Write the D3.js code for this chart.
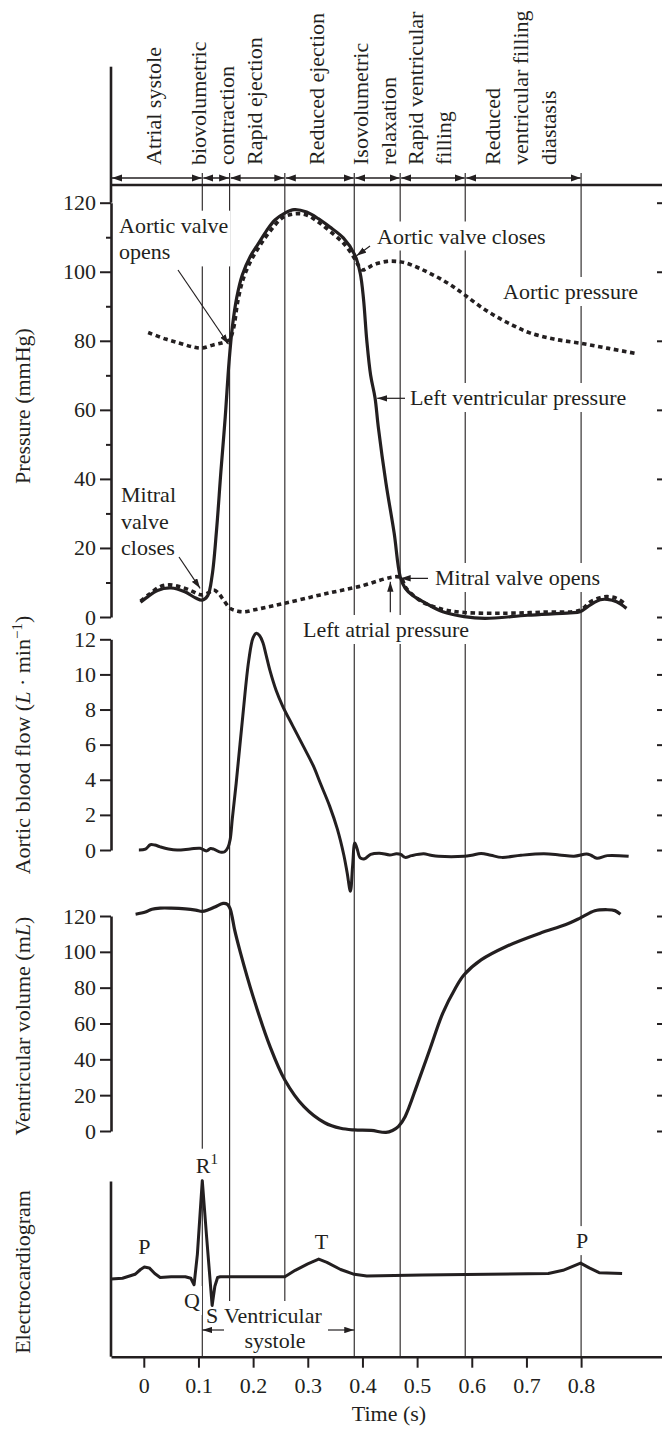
<!DOCTYPE html>
<html>
<head>
<meta charset="utf-8">
<script src="https://cdn.jsdelivr.net/npm/d3@7"></script>
<style>
  html, body { margin: 0; padding: 0; background: #fff; }
  svg { display: block; }
  text { font-family: "Liberation Serif", "Times New Roman", serif; fill: #231f20; }
</style>
</head>
<body>
<svg id="chart" width="662" height="1429"></svg>
<script>
// ---- Cardiac cycle phases (s) ----
const timeTicks = [0, 0.1, 0.2, 0.3, 0.4, 0.5, 0.6, 0.7, 0.8];
const phaseBounds = [0.107, 0.157, 0.258, 0.385, 0.469, 0.588, 0.8];
const phaseLabels = [
  ["Atrial systole"],
  ["biovolumetric", "contraction"],
  ["Rapid ejection"],
  ["Reduced ejection"],
  ["Isovolumetric", "relaxation"],
  ["Rapid ventricular", "filling"],
  ["Reduced", "ventricular filling", "diastasis"]
];

// ---- Axis ticks ----
const pressureTicks = [0, 20, 40, 60, 80, 100, 120];
const pressureMinorTicks = [10, 30, 50, 70, 90, 110];
const flowTicks = [0, 2, 4, 6, 8, 10, 12];
const volumeTicks = [0, 20, 40, 60, 80, 100, 120];

// ---- Series: [time (s), value] ----
// Left ventricular pressure (mmHg)
const lvPressure = [
  [-0.006, 4.3], [0.005, 5.6], [0.025, 7.7], [0.05, 8.4], [0.075, 7.3], [0.095, 5.5],
  [0.107, 4.9], [0.117, 6.2], [0.125, 12], [0.133, 25], [0.141, 42], [0.149, 58],
  [0.156, 74], [0.162, 84], [0.170, 92.5], [0.180, 99], [0.195, 104.5], [0.209, 108],
  [0.225, 112], [0.240, 115], [0.258, 117], [0.275, 118], [0.298, 117.3], [0.320, 115.3],
  [0.340, 113], [0.365, 109.8], [0.386, 104.9], [0.396, 99.5], [0.402, 92], [0.408, 80],
  [0.415, 70], [0.423, 63.5], [0.429, 55], [0.443, 38.8], [0.458, 24.3], [0.469, 11.7],
  [0.478, 8.4], [0.492, 6.2], [0.509, 4.6], [0.547, 1.5], [0.586, 0.1], [0.624, -0.4],
  [0.702, 0.5], [0.780, 1.2], [0.798, 1.5], [0.817, 3.5], [0.835, 5.0], [0.848, 5.1],
  [0.865, 4.4], [0.883, 2.5]
];
// Aortic pressure (mmHg)
const aorticPressure = [
  [0.008, 82.4], [0.040, 80.5], [0.066, 79.3], [0.090, 78.2], [0.106, 77.9], [0.127, 78.8],
  [0.145, 79.5], [0.156, 80.2], [0.164, 83.5], [0.172, 91.5], [0.182, 98], [0.196, 103.2],
  [0.212, 107.5], [0.230, 111.5], [0.255, 115.8], [0.280, 116.8], [0.300, 116.3],
  [0.320, 114.3], [0.340, 111.8], [0.365, 108.3], [0.383, 104.5], [0.392, 102], [0.400, 100.5],
  [0.410, 101.2], [0.425, 102.3], [0.445, 103], [0.462, 103], [0.480, 102.5], [0.500, 101.3],
  [0.520, 99.8], [0.542, 98], [0.565, 95.8], [0.587, 93.3], [0.615, 90], [0.645, 87],
  [0.675, 84.5], [0.706, 82.3], [0.750, 80.5], [0.798, 79.3], [0.850, 77.8], [0.898, 76.4]
];
// Left atrial pressure (mmHg)
const atrialPressure = [
  [-0.006, 4.6], [0.010, 6.6], [0.030, 8.8], [0.046, 9.3], [0.065, 8.8], [0.084, 7.8],
  [0.100, 6.6], [0.107, 6.4], [0.118, 7.0], [0.128, 7.8], [0.137, 6.8], [0.146, 4.9],
  [0.158, 2.5], [0.172, 1.7], [0.184, 1.5], [0.200, 2.0], [0.215, 2.5], [0.258, 4.0],
  [0.323, 6.4], [0.393, 8.8], [0.469, 11.5], [0.478, 8.8], [0.486, 7.3], [0.509, 4.4],
  [0.547, 2.2], [0.586, 1.3], [0.662, 1.1], [0.730, 1.4], [0.798, 2.0], [0.817, 4.4],
  [0.835, 5.6], [0.848, 5.9], [0.865, 5.4], [0.883, 3.5]
];
// Aortic blood flow (L/min)
const aorticFlow = [
  [-0.009, 0], [0.003, 0.05], [0.012, 0.3], [0.020, 0.28], [0.030, 0.18], [0.045, 0.06],
  [0.061, 0.0], [0.085, 0.06], [0.103, 0.1], [0.110, 0.0], [0.115, -0.05], [0.122, 0.08],
  [0.128, 0.05], [0.140, -0.12], [0.148, -0.1], [0.154, 0.15], [0.158, 0.6], [0.162, 1.8],
  [0.169, 3.8], [0.181, 7.6], [0.192, 10.8], [0.200, 12.1], [0.206, 12.35], [0.212, 12.2],
  [0.218, 11.8], [0.223, 11.2], [0.231, 10.2], [0.242, 9.1], [0.254, 8.2], [0.272, 7.1],
  [0.292, 5.9], [0.310, 4.8], [0.323, 3.8], [0.340, 2.5], [0.354, 1.2], [0.366, -0.3],
  [0.372, -1.3], [0.378, -2.35], [0.382, -0.9], [0.386, 0.4], [0.390, 0.1], [0.396, -0.45],
  [0.404, -0.5], [0.415, -0.25], [0.431, -0.18], [0.450, -0.28], [0.462, -0.22], [0.470, -0.25],
  [0.478, -0.42], [0.490, -0.32], [0.512, -0.22], [0.525, -0.3], [0.539, -0.36], [0.586, -0.36],
  [0.600, -0.3], [0.617, -0.2], [0.635, -0.3], [0.655, -0.42], [0.690, -0.3], [0.732, -0.22],
  [0.760, -0.28], [0.787, -0.36], [0.810, -0.23], [0.818, -0.3], [0.829, -0.47], [0.848, -0.32],
  [0.887, -0.36]
];
// Ventricular volume (mL)
const ventricularVolume = [
  [-0.015, 121], [0.003, 122.2], [0.015, 123.8], [0.030, 124.4], [0.050, 124.4], [0.076, 124],
  [0.095, 123.3], [0.107, 122.6], [0.118, 123.5], [0.130, 125], [0.145, 127], [0.153, 126.5],
  [0.158, 124], [0.162, 119], [0.166, 112.5], [0.177, 99.3], [0.200, 75], [0.231, 47.1],
  [0.258, 28.5], [0.293, 13.6], [0.331, 4.6], [0.360, 1.5], [0.385, 0.6], [0.416, 0.3],
  [0.443, -0.8], [0.455, 0.3], [0.466, 2.6], [0.478, 8], [0.501, 26.6], [0.524, 46.2],
  [0.547, 65.8], [0.570, 79.7], [0.586, 87.2], [0.617, 95.5], [0.663, 103], [0.725, 110.4],
  [0.771, 115.1], [0.798, 118.8], [0.825, 122.9], [0.848, 123.5], [0.862, 123], [0.872, 121]
];
// Electrocardiogram (mV)
const ecg = [
  [-0.060, -0.03], [-0.039, -0.02], [-0.016, 0.03], [-0.006, 0.09], [0.001, 0.12], [0.010, 0.11],
  [0.020, 0.04], [0.030, -0.01], [0.050, 0.0], [0.076, 0.0], [0.086, -0.02], [0.092, -0.1],
  [0.098, 0.28], [0.107, 1.2], [0.115, 0.49], [0.125, -0.36], [0.130, -0.12], [0.135, -0.01],
  [0.140, 0.0], [0.258, 0.0], [0.277, 0.08], [0.300, 0.16], [0.320, 0.22], [0.335, 0.18],
  [0.360, 0.09], [0.385, 0.03], [0.408, 0.01], [0.509, 0.02], [0.740, 0.04], [0.767, 0.08],
  [0.799, 0.17], [0.815, 0.11], [0.833, 0.05], [0.875, 0.04]
];

// ---- Layout ----
const ink = "#231f20";
const FS = 22;
const svg = d3.select("#chart");

const x = d3.scaleLinear().domain([-0.06, 0.948]).range([111, 662]);
const yP = d3.scaleLinear().domain([0, 120]).range([617, 202.7]);
const yF = d3.scaleLinear().domain([0, 12]).range([850, 639.3]);
const yV = d3.scaleLinear().domain([0, 120]).range([1131, 916]);
const yE = d3.scaleLinear().domain([-1, 1.2]).range([1356.7, 1180.7]);

const axisX = x.range()[0];
const axisTop = 66.7;
const headerLineY = 185;
const arrowRowY = 178;
const headerTickTop = 173;
const baseY = yE.range()[0];

// Arrowhead markers
const defs = svg.append("defs");
function marker(id, len, half) {
  defs.append("marker")
    .attr("id", id)
    .attr("markerUnits", "userSpaceOnUse")
    .attr("viewBox", `0 0 ${len} ${half * 2}`)
    .attr("refX", len).attr("refY", half)
    .attr("markerWidth", len).attr("markerHeight", half * 2)
    .attr("orient", "auto-start-reverse")
    .append("path")
    .attr("d", `M0,0 L${len},${half} L0,${half * 2} Z`)
    .attr("fill", ink);
}
marker("head", 10, 3.6);
marker("pointer", 10, 3.2);

const gLines = svg.append("g");
const gAxes = svg.append("g");
const gNotes = svg.append("g");
const gCurves = svg.append("g");
const gArrows = svg.append("g");

// ---- Phase boundary lines ----
const sysStart = phaseBounds[0], sysEnd = phaseBounds[3];
gLines.selectAll("line.phase")
  .data(phaseBounds)
  .join("line")
  .attr("class", "phase")
  .attr("x1", d => x(d)).attr("x2", d => x(d))
  .attr("y1", headerTickTop)
  .attr("y2", d => (d > sysStart && d < sysEnd) ? 1305 : baseY)
  .attr("stroke", ink).attr("stroke-width", 1.1);

// ---- Header: phase arrows and labels ----
const segStarts = [x.domain()[0]].concat(phaseBounds.slice(0, -1));
const segments = segStarts.map((s, i) => [s, phaseBounds[i]]);

gAxes.append("line")
  .attr("x1", axisX).attr("x2", x.range()[1])
  .attr("y1", headerLineY).attr("y2", headerLineY)
  .attr("stroke", ink).attr("stroke-width", 2.6);

gArrows.selectAll("line.seg")
  .data(segments)
  .join("line")
  .attr("class", "seg")
  .attr("x1", d => x(d[0]) + 1).attr("x2", d => x(d[1]) - 0.5)
  .attr("y1", arrowRowY).attr("y2", arrowRowY)
  .attr("stroke", ink).attr("stroke-width", 1.5)
  .attr("marker-start", "url(#head)")
  .attr("marker-end", "url(#head)");

segments.forEach((seg, i) => {
  const lines = phaseLabels[i];
  const xc = (x(seg[0]) + x(seg[1])) / 2;
  lines.forEach((txt, j) => {
    const bx = xc + (j - (lines.length - 1) / 2) * 28 + 4.5;
    svg.append("text")
      .attr("transform", `translate(${bx},165) rotate(-90)`)
      .attr("font-size", FS)
      .text(txt);
  });
});

// ---- Axes ----
function styleAxis(g) {
  g.attr("font-family", null).attr("font-size", null);
  g.selectAll("path.domain").attr("stroke", ink).attr("stroke-width", 2.6);
  g.selectAll(".tick line").attr("stroke", ink).attr("stroke-width", 2);
  g.selectAll(".tick text").attr("font-size", FS).attr("fill", ink)
    .style("font-family", '"Liberation Serif", "Times New Roman", serif');
}
function leftAxis(scale, ticks) {
  gAxes.append("g")
    .attr("transform", `translate(${axisX},0)`)
    .call(d3.axisLeft(scale).tickValues(ticks).tickSize(11).tickSizeOuter(0).tickPadding(4)
      .tickFormat(d3.format("d")))
    .call(styleAxis);
  gAxes.append("g")
    .attr("transform", "translate(657,0)")
    .call(d3.axisRight(scale).tickValues(ticks).tickSize(5).tickFormat(""))
    .call(g => g.select(".domain").remove())
    .call(styleAxis);
}
leftAxis(yP, pressureTicks);
leftAxis(yF, flowTicks);
leftAxis(yV, volumeTicks);

// minor pressure ticks
gAxes.append("g")
  .attr("transform", `translate(${axisX},0)`)
  .call(d3.axisLeft(yP).tickValues(pressureMinorTicks).tickSize(5).tickFormat(""))
  .call(g => g.select(".domain").remove())
  .call(styleAxis);

// pressure axis rises to the top of the figure
gAxes.append("line")
  .attr("x1", axisX).attr("x2", axisX)
  .attr("y1", axisTop).attr("y2", yP.range()[1])
  .attr("stroke", ink).attr("stroke-width", 2.6);

// ECG axis (no ticks)
gAxes.append("line")
  .attr("x1", axisX).attr("x2", axisX)
  .attr("y1", yE(1.19)).attr("y2", baseY)
  .attr("stroke", ink).attr("stroke-width", 2.6);

// time axis
gAxes.append("g")
  .attr("transform", `translate(0,${baseY})`)
  .call(d3.axisBottom(x).tickValues(timeTicks).tickSize(11).tickSizeOuter(0).tickPadding(10)
    .tickFormat(d => d === 0 ? "0" : d3.format(".1f")(d)))
  .call(styleAxis);

svg.append("text")
  .attr("x", 389).attr("y", 1421)
  .attr("text-anchor", "middle").attr("font-size", FS)
  .text("Time (s)");

// ---- Axis titles ----
function yTitle(cy, build) {
  const t = svg.append("text")
    .attr("transform", `translate(30,${cy}) rotate(-90)`)
    .attr("text-anchor", "middle").attr("font-size", FS);
  build(t);
}
yTitle(406, t => t.text("Pressure (mmHg)"));
yTitle(745, t => {
  t.append("tspan").text("Aortic blood flow (");
  t.append("tspan").attr("font-style", "italic").text("L");
  t.append("tspan").text(" \u00b7 min");
  t.append("tspan").attr("font-size", 15).attr("dy", -8).text("\u22121");
  t.append("tspan").attr("dy", 8).text(")");
});
yTitle(1026, t => {
  t.append("tspan").text("Ventricular volume (m");
  t.append("tspan").attr("font-style", "italic").text("L");
  t.append("tspan").text(")");
});
yTitle(1272, t => t.text("Electrocardiogram"));

// ---- Annotations (text on white boxes) ----
function note(lines, px, py, anchor, lh) {
  const g = gNotes.append("g");
  const t = g.append("text").attr("font-size", FS).attr("text-anchor", anchor || "start");
  lines.forEach((s, i) => {
    t.append("tspan").attr("x", px).attr("y", py + i * (lh || 26.7)).text(s);
  });
  const b = t.node().getBBox();
  g.insert("rect", "text")
    .attr("x", b.x - 2).attr("y", b.y - 2)
    .attr("width", b.width + 4).attr("height", b.height + 4)
    .attr("fill", "#fff");
  return t;
}
note(["Aortic valve", "opens"], 119, 232.7);
note(["Aortic valve closes"], 377, 243.5);
note(["Aortic pressure"], 503, 299);
note(["Left ventricular pressure"], 410, 405);
note(["Mitral", "valve", "closes"], 121, 502);
note(["Mitral valve opens"], 435, 585);
note(["Left atrial pressure"], 303, 637);

// ECG wave labels
note(["P"], x(0.001), yE(0.12) - 13, "middle");
note(["T"], x(0.325), yE(0.22) - 10, "middle");
note(["P"], x(0.8) + 1, yE(0.17) - 15, "middle");
note(["Q"], x(0.088), 1308, "middle");
note(["S"], x(0.125), 1323, "middle");
note(["Ventricular"], 224, 1323);
note(["systole"], 275, 1347.5, "middle");
{
  const g = gNotes.append("g");
  const t = g.append("text").attr("font-size", FS)
    .attr("x", x(0.107) - 6.5).attr("y", yE(1.2) - 8);
  t.append("tspan").text("R");
  t.append("tspan").attr("font-size", 15).attr("dy", -9).text("1");
  const b = t.node().getBBox();
  g.insert("rect", "text")
    .attr("x", b.x - 2).attr("y", b.y - 2)
    .attr("width", b.width + 4).attr("height", b.height + 4)
    .attr("fill", "#fff");
}

// ---- Curves ----
const smooth = d3.curveCatmullRom.alpha(0.5);
function curve(data, yScale, opts) {
  gCurves.append("path")
    .datum(data)
    .attr("fill", "none")
    .attr("stroke", ink)
    .attr("stroke-width", opts.width)
    .attr("stroke-linejoin", "round")
    .attr("stroke-dasharray", opts.dash || null)
    .attr("d", d3.line().x(d => x(d[0])).y(d => yScale(d[1])).curve(opts.curve || smooth));
}
curve(aorticPressure, yP, { width: 3.6, dash: "4.5,3.6" });
curve(atrialPressure, yP, { width: 3.6, dash: "4.5,3.6" });
curve(lvPressure, yP, { width: 3.2 });
curve(aorticFlow, yF, { width: 3 });
curve(ventricularVolume, yV, { width: 3.2 });
curve(ecg, yE, { width: 3, curve: d3.curveLinear });

// ---- Annotation pointers ----
function pointer(x1, y1, x2, y2) {
  gArrows.append("line")
    .attr("x1", x1).attr("y1", y1).attr("x2", x2).attr("y2", y2)
    .attr("stroke", ink).attr("stroke-width", 1.2)
    .attr("marker-end", "url(#pointer)");
}
pointer(178, 270, x(0.155), yP(79));          // aortic valve opens
pointer(370, 246, x(0.389), yP(104.6));       // aortic valve closes
pointer(405, 398.3, x(0.427), 398.3);         // left ventricular pressure
pointer(179, 557, x(0.103), yP(8.3));         // mitral valve closes
pointer(428, 578.3, x(0.470), yP(11.2));      // mitral valve opens
pointer(x(0.451), yP(1.4), x(0.451), yP(10.2)); // left atrial pressure

// ventricular systole bracket
const sysY = 1330;
pointer(224, sysY, x(sysStart), sysY);
pointer(328, sysY, x(sysEnd), sysY);
</script>
</body>
</html>
